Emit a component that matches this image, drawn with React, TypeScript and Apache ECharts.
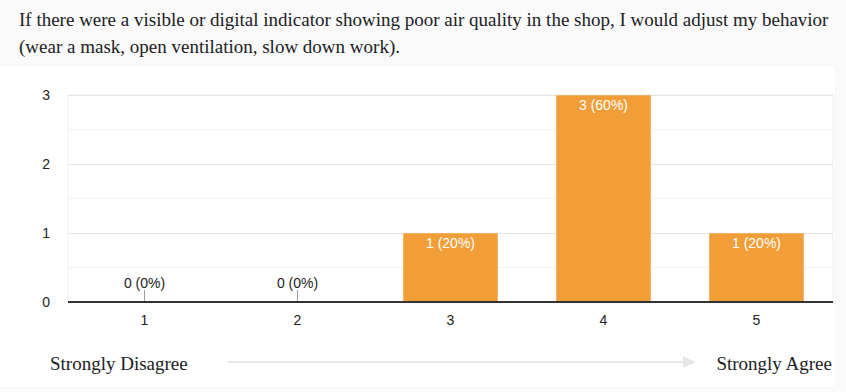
import React, { useEffect, useRef } from "react";
import * as echarts from "echarts";

const titleLines = [
  "If there were a visible or digital indicator showing poor air quality in the shop, I would adjust my behavior",
  "(wear a mask, open ventilation, slow down work).",
];
const categories = ["1", "2", "3", "4", "5"];
const counts = [0, 0, 1, 3, 1];
const yTicks = [0, 1, 2, 3];
const scaleLeft = "Strongly Disagree";
const scaleRight = "Strongly Agree";

const total = counts.reduce((a, b) => a + b, 0);
const SERIF = "'Liberation Serif', 'DejaVu Serif', serif";
const SANS = "Arial, 'Liberation Sans', sans-serif";

export default function App() {
  const ref = useRef<HTMLDivElement>(null);
  useEffect(() => {
    document.body.style.margin = "0";
    const chart = echarts.init(ref.current!, null, { renderer: "svg" });
    chart.setOption({
      animation: false,
      backgroundColor: "transparent",
      grid: {
        left: 68,
        right: 13,
        top: 95,
        bottom: 90,
        show: true,
        borderColor: "#eeeeee",
        borderWidth: 1,
        backgroundColor: "transparent",
      },
      xAxis: {
        type: "category",
        data: categories,
        axisLine: { show: false },
        axisTick: {
          show: true,
          alignWithLabel: true,
          inside: true,
          length: 12,
          lineStyle: { color: "#9e9e9e", width: 1 },
        },
        axisLabel: { color: "#222", fontSize: 14, fontFamily: SANS, margin: 11 },
      },
      yAxis: {
        type: "value",
        min: 0,
        max: yTicks[yTicks.length - 1],
        interval: 0.5,
        axisLine: { show: false },
        axisTick: { show: false },
        axisLabel: {
          color: "#222",
          fontSize: 14,
          fontFamily: SANS,
          margin: 18,
          formatter: (v: number) => (yTicks.includes(v) ? String(v) : ""),
        },
        splitLine: { lineStyle: { color: ["#e6e6e6", "#f3f3f3"], width: 1 } },
      },
      series: [
        {
          type: "bar",
          barWidth: "62%",
          itemStyle: { color: "#f29e38", borderColor: "#f5b162", borderWidth: 1 },
          data: counts.map((v) => ({
            value: v,
            label:
              v === 0
                ? { position: "top", color: "#222", distance: 12 }
                : { position: "insideTop", color: "#ffffff", distance: 3 },
          })),
          label: {
            show: true,
            fontSize: 14,
            fontFamily: SANS,
            formatter: (p: any) => `${p.value} (${Math.round((p.value / total) * 100)}%)`,
          },
          markLine: {
            silent: true,
            symbol: "none",
            label: { show: false },
            lineStyle: { color: "#333", width: 2, type: "solid" },
            data: [{ yAxis: 0 }],
          },
        },
      ],
      graphic: [
        {
          type: "text",
          left: 19,
          top: 6,
          style: {
            text: titleLines.join("\n"),
            font: `19px ${SERIF}`,
            fill: "#202124",
            lineHeight: 27,
          },
        },
        {
          type: "text",
          left: 50,
          top: 354,
          style: { text: scaleLeft, font: `19px ${SERIF}`, fill: "#202124" },
        },
        {
          type: "text",
          right: 13,
          top: 354,
          style: { text: scaleRight, font: `19px ${SERIF}`, fill: "#202124" },
        },
        {
          type: "line",
          shape: { x1: 228, y1: 362, x2: 684, y2: 362 },
          style: { stroke: "#e6e6e6", lineWidth: 2 },
        },
        {
          type: "polygon",
          shape: { points: [[683, 356], [696, 362], [683, 368]] },
          style: { fill: "#e6e6e6" },
        },
      ],
    });
    return () => chart.dispose();
  }, []);
  return (
    <div style={{ position: "relative", width: 846, height: 392, background: "#fafafa", overflow: "hidden" }}>
      <div
        style={{
          position: "absolute",
          left: 0,
          top: 66,
          width: 835,
          height: 321,
          background: "#ffffff",
          boxShadow: "0 0 1px rgba(0,0,0,0.12)",
        }}
      />
      <div ref={ref} style={{ position: "absolute", left: 0, top: 0, width: 846, height: 392 }} />
    </div>
  );
}
